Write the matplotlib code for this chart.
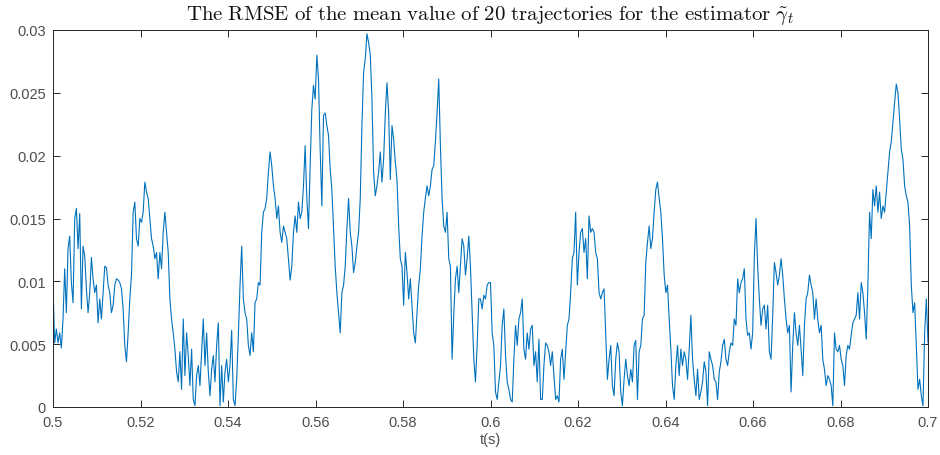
import numpy as np
import matplotlib
matplotlib.use('Agg')
import matplotlib.pyplot as plt

# RMSE readings (x 1e-3), sampled evenly over t = 0.5 .. 0.7, split in 8 chunks
seg1 = [9.7, 5.1, 6.2, 5.1, 5.9, 4.7, 7.0, 11.0, 7.5, 12.6, 13.6, 9.9, 8.3, 15.0, 15.8, 12.6,
        15.4, 7.8, 12.8, 12.0, 9.4, 7.5, 9.1, 11.9, 10.2, 9.1, 9.7, 6.7, 8.6, 7.0, 9.1, 11.2,
        11.1, 9.7, 9.1, 7.5, 8.1, 9.7, 10.2, 10.1, 9.9, 9.4, 7.8, 4.9, 3.6, 5.9, 8.6, 10.5,
        15.5, 16.3, 13.4, 12.8, 15.0, 14.7, 15.5, 17.9, 17.1, 16.6, 15.0, 13.4, 12.8, 11.8, 12.3, 10.2]
seg2 = [12.3, 11.0, 13.9, 15.5, 13.9, 12.3, 8.6, 7.0, 5.9, 4.6, 2.8, 2.0, 4.4, 1.4, 7.0, 2.5,
        5.9, 4.1, 1.7, 4.6, 0.6, 0.1, 2.5, 3.3, 1.7, 4.4, 7.0, 3.3, 5.9, 2.8, 0.9, 3.0,
        4.1, 2.0, 4.9, 6.7, 0.1, 3.3, 0.4, 2.8, 3.8, 2.0, 3.3, 6.1, 0.6, 0.1, 2.2, 5.7,
        9.7, 12.8, 8.6, 7.5, 7.0, 4.9, 4.1, 5.9, 4.4, 8.3, 8.6, 9.9, 9.7, 13.9, 15.5, 15.8, 16.6, 18.7]
seg3 = [20.3, 19.2, 17.6, 16.6, 15.0, 16.0, 13.9, 13.1, 14.4, 13.9, 13.4, 11.8, 10.1, 11.2, 13.9, 15.2,
        13.9, 16.3, 15.0, 15.5, 17.6, 20.8, 16.6, 14.2, 19.2, 23.7, 25.6, 24.5, 28.0, 26.1, 20.5, 16.0,
        23.2, 23.4, 22.4, 21.6, 18.9, 17.3, 14.2, 11.2, 9.1, 7.5, 5.9, 9.1, 9.7, 11.2, 14.2, 16.6,
        13.9, 12.8, 10.7, 11.5, 12.8, 13.9, 16.6, 22.4, 26.6, 27.7, 29.7, 29.0, 28.0, 24.5, 18.7, 16.8, 17.6, 18.7]
seg4 = [20.3, 17.9, 19.7, 23.4, 25.8, 23.4, 18.1, 22.4, 21.3, 19.5, 18.1, 14.4, 11.8, 11.2, 8.1, 12.3,
        10.7, 8.6, 10.2, 8.1, 5.9, 5.1, 7.5, 9.7, 11.0, 13.6, 15.5, 16.6, 17.6, 16.8, 17.6, 18.9,
        19.2, 21.1, 23.4, 26.1, 20.8, 16.6, 14.4, 13.9, 15.5, 11.8, 11.2, 3.8, 7.3, 10.2, 11.2, 9.1,
        11.2, 13.4, 12.8, 10.5, 11.8, 13.6, 11.2, 7.5, 3.8, 2.0, 4.9, 8.6, 8.6, 7.8, 8.9, 8.6, 9.7, 9.9]
seg5 = [9.9, 5.9, 4.9, 1.2, 0.6, 2.0, 3.3, 6.5, 7.8, 4.1, 2.0, 1.4, 0.6, 0.4, 3.8, 6.5,
        4.9, 7.0, 7.5, 8.6, 4.6, 3.8, 5.9, 4.6, 6.2, 6.5, 3.3, 4.4, 2.0, 5.4, 0.6, 0.6,
        3.3, 5.1, 4.9, 4.4, 3.3, 4.4, 2.5, 0.6, 0.9, 0.4, 3.8, 4.6, 2.2, 4.4, 6.5, 7.0,
        9.1, 11.8, 12.3, 15.5, 9.7, 12.3, 13.9, 14.2, 12.3, 13.4, 10.2, 15.2, 13.9, 14.2, 13.9, 12.3, 11.8, 9.1]
seg6 = [8.6, 9.1, 9.4, 5.9, 2.2, 3.8, 4.9, 1.7, 0.9, 3.8, 5.1, 4.4, 1.2, 0.1, 2.2, 3.8,
        2.5, 1.7, 3.0, 2.0, 4.9, 5.3, 0.6, 4.4, 4.9, 7.0, 7.3, 11.5, 13.1, 14.4, 12.6, 13.4,
        15.5, 17.3, 17.9, 16.6, 15.5, 13.4, 10.5, 9.1, 9.7, 7.0, 4.6, 1.7, 0.6, 3.3, 4.9, 2.5,
        4.6, 3.3, 4.4, 3.8, 2.2, 4.6, 7.3, 3.8, 2.2, 0.9, 3.0, 0.6, 1.2, 2.0, 3.6, 2.8, 0.1, 4.4]
seg7 = [3.8, 3.3, 2.2, 2.0, 0.6, 2.8, 3.6, 4.9, 5.4, 3.8, 3.3, 4.4, 5.1, 4.9, 7.0, 6.5,
        10.2, 9.1, 9.9, 10.2, 11.0, 7.0, 5.7, 5.9, 4.6, 5.9, 12.0, 15.0, 11.2, 8.6, 6.5, 7.8,
        8.1, 6.2, 8.1, 4.4, 3.8, 7.3, 11.5, 10.7, 9.7, 10.5, 11.8, 10.5, 8.6, 7.0, 5.9, 6.5,
        1.2, 4.9, 7.5, 5.9, 4.9, 6.5, 4.6, 2.5, 6.5, 8.6, 9.1, 10.5, 9.7, 9.1, 7.0, 8.6, 7.0, 5.9]
seg8 = [6.5, 3.8, 3.0, 1.7, 2.5, 2.2, 1.7, 0.1, 5.9, 4.6, 4.4, 4.9, 3.8, 3.3, 1.7, 4.1,
        4.9, 4.6, 5.7, 6.7, 7.0, 7.3, 9.1, 7.0, 9.9, 9.1, 7.5, 5.4, 9.7, 15.5, 13.4, 17.3,
        16.0, 17.6, 15.5, 17.1, 15.0, 16.0, 15.5, 17.1, 18.7, 20.3, 21.1, 22.7, 24.2, 25.7, 25.0, 22.9,
        20.5, 19.7, 17.6, 16.8, 16.3, 14.4, 9.7, 7.5, 8.3, 4.9, 1.4, 2.2, 0.9, 0.1, 5.9, 8.6, 5.1]

xticks = [0.5, 0.52, 0.54, 0.56, 0.58, 0.6, 0.62, 0.64, 0.66, 0.68, 0.7]
xticklabels = ['0.5', '0.52', '0.54', '0.56', '0.58', '0.6', '0.62', '0.64', '0.66', '0.68', '0.7']
yticks = [0, 0.005, 0.01, 0.015, 0.02, 0.025, 0.03]
yticklabels = ['0', '0.005', '0.01', '0.015', '0.02', '0.025', '0.03']

rmse = np.concatenate([seg1, seg2, seg3, seg4, seg5, seg6, seg7, seg8]) * 1e-3
t = np.linspace(0.5, 0.7, len(rmse))

plt.rc('font', family='Liberation Sans', size=10.5)
plt.rc('mathtext', fontset='cm')

fig = plt.figure(figsize=(9.4, 4.56), dpi=100)
ax = fig.add_axes([53 / 940, 48 / 456, 875 / 940, 377 / 456])

ax.plot(t, rmse, color='#0072BD', linewidth=0.8)

ax.set_xlim(0.5, 0.7)
ax.set_ylim(0, 0.03)
ax.set_xticks(xticks)
ax.set_xticklabels(xticklabels)
ax.set_yticks(yticks)
ax.set_yticklabels(yticklabels)

gray = '#4d4d4d'
ax.tick_params(direction='in', length=5, width=0.7, top=True, right=True,
               colors='#262626', labelcolor=gray, labelsize=10.5)
ax.tick_params(axis='x', pad=6)
ax.tick_params(axis='y', pad=5)
for s in ax.spines.values():
    s.set_color('#262626')
    s.set_linewidth(0.7)

ax.set_xlabel('t(s)', color=gray, fontsize=10.5, labelpad=2)
ax.set_title(r'$\mathrm{The\ RMSE\ of\ the\ mean\ value\ of\ 20\ trajectories\ for\ the\ estimator}\ \tilde{\gamma}_t$',
             fontsize=15, color='#111111', pad=8)

fig.savefig('out.png', dpi=100)
